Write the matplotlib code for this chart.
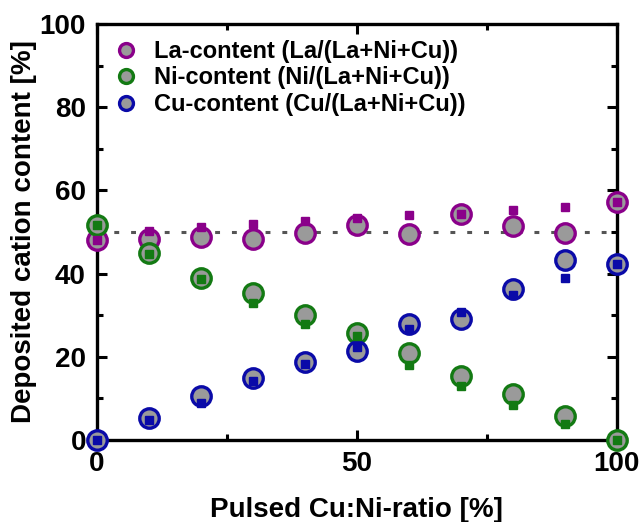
import numpy as np
import matplotlib.pyplot as plt
from matplotlib.ticker import MultipleLocator

plt.rcParams['font.family'] = ['Liberation Sans', 'DejaVu Sans']
plt.rcParams['font.weight'] = 'bold'

# pulsed Cu:Ni ratio [%]
ratio = [0, 10, 20, 30, 40, 50, 60, 70, 80, 90, 100]

# measured cation content (circles)
la_meas = [48.0, 48.3, 48.9, 48.3, 49.7, 51.6, 49.6, 54.4, 51.4, 49.8, 57.2]
ni_meas = [51.6, 45.0, 39.0, 35.4, 30.1, 25.8, 21.0, 15.3, 11.0, 5.7, 0.0]
cu_meas = [0.0, 5.3, 10.6, 14.8, 18.7, 21.5, 28.0, 29.0, 36.4, 43.2, 42.2]

# second set (small squares)
la_sq = [48.0, 50.3, 51.2, 52.0, 52.6, 53.4, 54.1, 54.4, 55.3, 55.9, 57.2]
ni_sq = [51.6, 44.6, 38.6, 33.0, 28.0, 25.0, 18.0, 13.0, 8.4, 3.8, 0.0]
cu_sq = [0.0, 4.7, 9.0, 14.3, 18.3, 22.3, 26.8, 30.8, 34.9, 38.9, 42.2]

colors = {'La': '#8a008a', 'Ni': '#137a13', 'Cu': '#0a0aa8'}
fill = '#9a9a9a'

fig = plt.figure(figsize=(6.43, 5.22), dpi=100)
ax = fig.add_axes([0.151, 0.157, 0.808, 0.797])

# 50 % guide line
ax.plot([0, 100], [50, 50], ls=(0, (1.6, 3.9)), color='#555555', lw=2.2,
        solid_capstyle='butt', dash_capstyle='butt', zorder=1)

series = [('La', la_meas, la_sq, 'La-content (La/(La+Ni+Cu))'),
          ('Ni', ni_meas, ni_sq, 'Ni-content (Ni/(La+Ni+Cu))'),
          ('Cu', cu_meas, cu_sq, 'Cu-content (Cu/(La+Ni+Cu))')]

for key, meas, sq, label in series:
    c = colors[key]
    ax.plot(ratio, meas, 'o', ms=14, mfc=fill, mec=c, mew=2.4,
            label=label, zorder=3, clip_on=False)
    ax.plot(ratio, sq, 's', ms=5.5, color=c, zorder=4, clip_on=False)

ax.set_xlim(0, 100)
ax.set_ylim(0, 100)
ax.xaxis.set_major_locator(MultipleLocator(50))
ax.xaxis.set_minor_locator(MultipleLocator(25))
ax.yaxis.set_major_locator(MultipleLocator(20))
ax.yaxis.set_minor_locator(MultipleLocator(10))
ax.tick_params(which='both', direction='in', top=True, right=True, width=2.2)
ax.tick_params(which='major', length=7, labelsize=20, pad=8)
ax.tick_params(which='minor', length=4)
for lab in ax.get_xticklabels() + ax.get_yticklabels():
    lab.set_fontweight('bold')
for s in ax.spines.values():
    s.set_linewidth(2.4)

ax.set_xlabel('Pulsed Cu:Ni-ratio [%]', fontsize=20, fontweight='bold', labelpad=14)
ax.set_ylabel('Deposited cation content [%]', fontsize=20, fontweight='bold', labelpad=2)

leg = ax.legend(loc='upper left', bbox_to_anchor=(0.033, 0.962), frameon=False,
                handletextpad=0.7, labelspacing=0.15, borderaxespad=0,
                borderpad=0, handlelength=1.0,
                prop={'weight': 'bold', 'size': 17})
for h in leg.legend_handles:
    h.set_markersize(10)

fig.savefig('out.png', dpi=100)
